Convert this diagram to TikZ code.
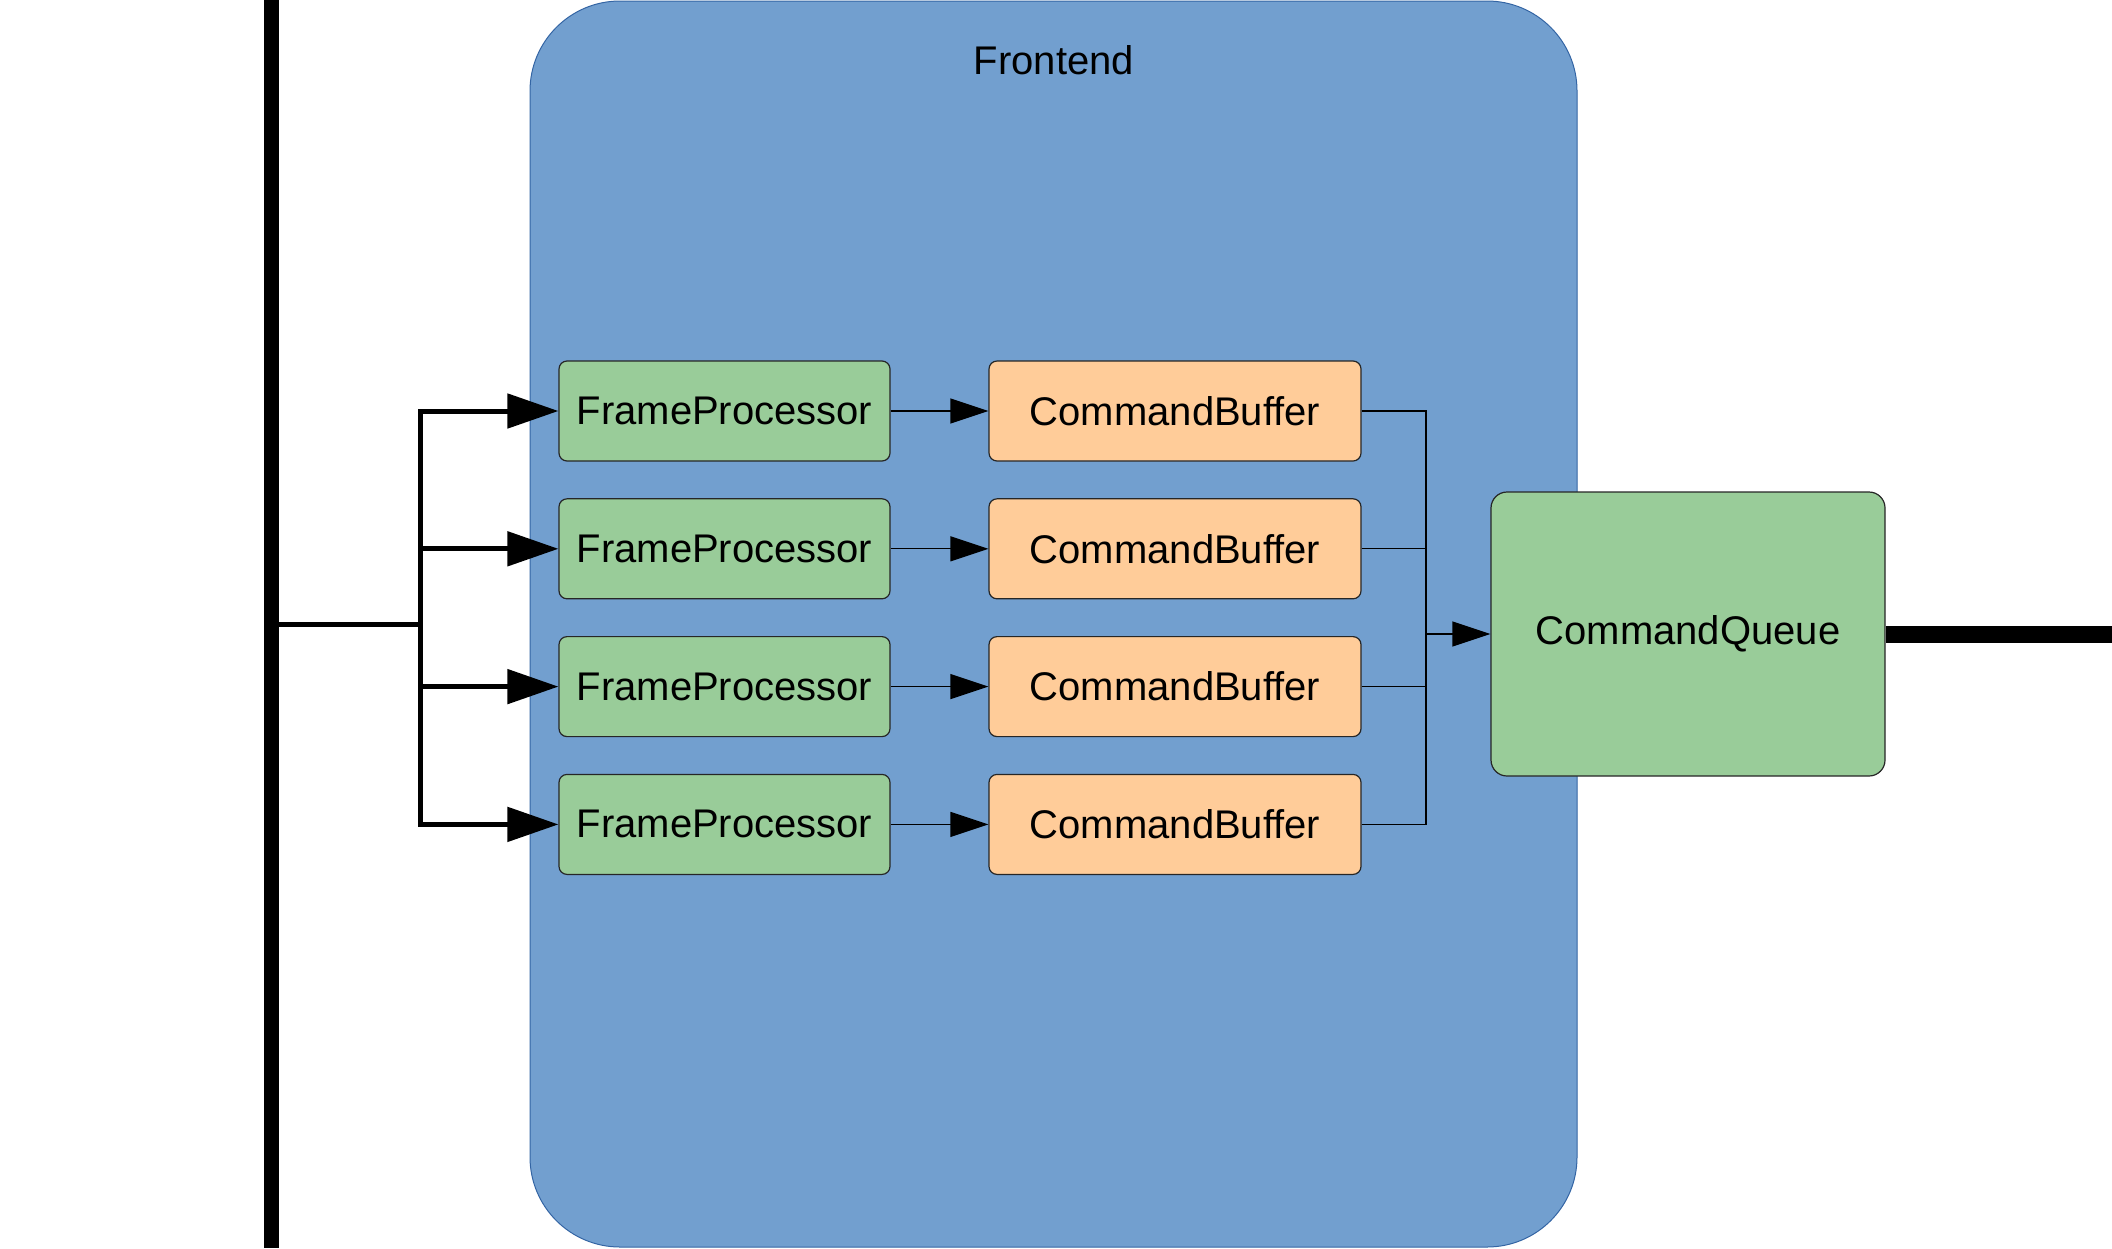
\documentclass[tikz,border=0pt]{standalone}
\usepackage{fontspec}
\setmainfont{Liberation Sans}
\usetikzlibrary{arrows.meta}
\definecolor{frontblue}{RGB}{114,159,207}
\definecolor{frontedge}{RGB}{52,101,164}
\definecolor{procgreen}{RGB}{153,204,153}
\definecolor{bufferorange}{RGB}{255,204,153}
\tikzset{
    label/.style={
        font=\fontsize{20}{24}\selectfont
    },
    block/.style={
        label,
        draw=black!85,
        line width=0.6pt,
        rounded corners=4pt,
        inner sep=0pt,
        minimum height=50pt
    },
    proc/.style={
        block,
        fill=procgreen,
        minimum width=165.5pt
    },
    buffer/.style={
        block,
        fill=bufferorange,
        minimum width=186pt
    },
    queue/.style={
        block,
        fill=procgreen,
        minimum width=197pt,
        minimum height=142pt,
        rounded corners=8pt
    },
    line/.style={
        line width=2.5pt
    },
    arrow/.style={
        line,
        -{Triangle[length=25.5pt, width=17pt]}
    },
    wire/.style={
        line width=0.6pt
    },
    smallarrow/.style={
        wire,
        -{Triangle[length=19pt, width=12.5pt]}
    },
    bus/.style={
        line width=7.5pt
    }
}
\newcommand{\stagerow}[2]{
    \node [proc] (fp#1) at (724.5, {#2}) {FrameProcessor};
    \node [buffer] (cb#1) at (1175, {#2}) {CommandBuffer};
    \draw [smallarrow] (fp#1.east) -- (cb#1.west);
}

\begin{document}
\begin{tikzpicture}[x=0.5pt, y=-0.5pt]
    \useasboundingbox (0, 0) rectangle (2112, 1248);
    \node [
        draw=frontedge,
        fill=frontblue,
        line width=0.5pt,
        rounded corners=45pt,
        inner sep=0pt,
        minimum width=523.5pt,
        minimum height=623pt
    ] (frontend) at (1053.5, 624) {};
    \node [label] (frontendlabel) at (1054, 60) {Frontend};

    \foreach \i in {1, ..., 4} {
        \stagerow{\i}{411 + (\i - 1) * 137.8}
    }
    \node [queue] (cq) at (1688, 634) {CommandQueue};

    \coordinate (bustop) at (271, 0);
    \coordinate (busbottom) at (271, 1248);
    \coordinate (tap) at (271, 624);
    \coordinate (split) at (420, 624);
    \coordinate (merge) at (1426, 634);
    \coordinate (out) at (2112, 634);

    \draw [bus] (bustop) -- (busbottom);
    \draw [line] (tap) -- (split);
    \foreach \i in {1, ..., 4} {
        \draw [arrow] (split) |- (fp\i.west);
        \draw [wire] (cb\i.east) -| (merge);
    }
    \draw [smallarrow] (merge) -- (cq.west);
    \draw [line width=8.5pt] (cq.east) -- (out);
\end{tikzpicture}
\end{document}
